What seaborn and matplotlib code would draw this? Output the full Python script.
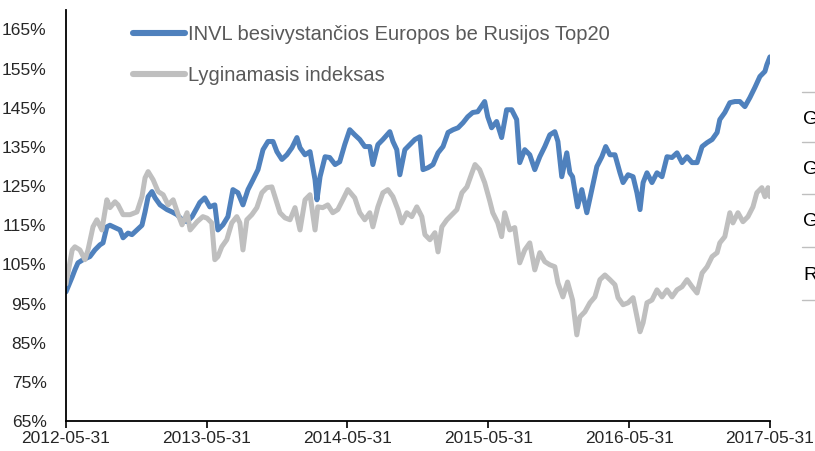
import matplotlib
matplotlib.use("Agg")
import matplotlib.pyplot as plt
import matplotlib.dates as mdates
from matplotlib.lines import Line2D
import seaborn as sns
import pandas as pd

# series (values in %)
invl_dates = [
    "2012-05-31", "2012-06-16", "2012-06-23", "2012-07-01", "2012-07-14", "2012-08-01",
    "2012-08-14", "2012-08-27", "2012-09-04", "2012-09-14", "2012-09-22", "2012-10-05",
    "2012-10-18", "2012-10-26", "2012-11-08", "2012-11-18", "2012-12-01", "2012-12-14",
    "2012-12-22", "2012-12-30", "2013-01-09", "2013-01-17", "2013-01-30", "2013-02-17",
    "2013-03-02", "2013-03-15", "2013-03-28", "2013-04-10", "2013-04-23", "2013-05-06",
    "2013-05-13", "2013-05-26", "2013-06-08", "2013-06-21", "2013-06-29", "2013-07-12",
    "2013-07-25", "2013-08-07", "2013-08-20", "2013-09-02", "2013-09-15", "2013-09-28",
    "2013-10-11", "2013-10-24", "2013-11-06", "2013-11-19", "2013-11-29", "2013-12-12",
    "2013-12-25", "2014-01-07", "2014-01-20", "2014-01-28", "2014-02-10", "2014-02-23",
    "2014-03-08", "2014-03-13", "2014-03-21", "2014-04-03", "2014-04-15", "2014-04-29",
    "2014-05-11", "2014-05-24", "2014-06-06", "2014-06-19", "2014-07-02", "2014-07-15",
    "2014-07-28", "2014-08-05", "2014-08-18", "2014-08-31", "2014-09-18", "2014-09-26",
    "2014-10-06", "2014-10-14", "2014-10-27", "2014-11-09", "2014-11-22", "2014-12-05",
    "2014-12-13", "2014-12-26", "2015-01-08", "2015-01-21", "2015-02-03", "2015-02-16",
    "2015-03-01", "2015-03-14", "2015-03-27", "2015-04-08", "2015-04-21", "2015-05-04",
    "2015-05-22", "2015-05-30", "2015-06-09", "2015-06-22", "2015-07-05", "2015-07-18",
    "2015-07-31", "2015-08-13", "2015-08-21", "2015-09-03", "2015-09-16", "2015-09-29",
    "2015-10-12", "2015-10-25", "2015-11-07", "2015-11-20", "2015-11-28", "2015-12-08",
    "2015-12-21", "2015-12-29", "2016-01-05", "2016-01-18", "2016-01-29", "2016-02-11",
    "2016-02-24", "2016-03-08", "2016-03-21", "2016-03-31", "2016-04-11", "2016-04-24",
    "2016-05-07", "2016-05-15", "2016-05-28", "2016-06-10", "2016-06-20", "2016-06-28",
    "2016-07-06", "2016-07-16", "2016-07-29", "2016-08-11", "2016-08-24", "2016-09-06",
    "2016-09-19", "2016-10-02", "2016-10-15", "2016-10-28", "2016-11-10", "2016-11-23",
    "2016-12-06", "2016-12-19", "2017-01-01", "2017-01-14", "2017-01-21", "2017-02-03",
    "2017-02-16", "2017-03-01", "2017-03-14", "2017-03-27", "2017-04-09", "2017-04-22",
    "2017-05-05", "2017-05-18", "2017-05-23", "2017-05-31",
]
invl_values = [
    98.0, 101.8, 103.6, 105.4, 106.2, 107.0,
    108.7, 110.0, 110.5, 114.6, 115.0, 114.4,
    113.8, 111.8, 113.0, 112.6, 113.8, 115.0,
    118.4, 122.3, 123.6, 122.0, 120.2, 119.0,
    118.4, 117.7, 116.4, 115.9, 117.2, 119.5,
    120.8, 122.0, 119.7, 120.2, 113.8, 115.1,
    117.2, 124.1, 123.3, 120.2, 124.1, 126.6,
    129.2, 134.3, 136.4, 136.4, 133.8, 131.8,
    133.0, 134.8, 137.4, 134.8, 133.0, 133.8,
    126.6, 121.5, 127.4, 132.5, 132.3, 130.5,
    131.2, 135.6, 139.4, 138.1, 136.9, 135.1,
    135.1, 130.5, 135.6, 136.9, 138.9, 136.4,
    134.3, 127.9, 134.3, 135.6, 136.9, 137.6,
    129.2, 129.7, 130.5, 133.5, 135.1, 138.7,
    139.4, 139.9, 141.2, 142.7, 143.8, 144.0,
    146.6, 142.7, 139.9, 141.5, 137.4, 144.5,
    144.5, 142.0, 131.0, 134.3, 133.0, 129.2,
    132.5, 135.1, 138.1, 138.9, 136.4, 127.4,
    133.5, 128.4, 127.4, 119.7, 124.1, 118.2,
    124.1, 130.0, 132.5, 135.1, 133.0, 133.0,
    128.4, 125.9, 127.9, 127.4, 123.3, 119.0,
    125.9, 128.4, 125.9, 128.4, 127.4, 132.5,
    132.3, 133.5, 131.0, 132.5, 131.0, 131.0,
    135.1, 136.1, 136.9, 138.7, 142.0, 143.8,
    146.3, 146.6, 146.6, 145.3, 147.6, 150.2,
    153.0, 154.3, 156.0, 158.0,
]

index_dates = [
    "2012-05-31", "2012-06-16", "2012-06-23", "2012-07-06", "2012-07-19", "2012-07-27",
    "2012-08-09", "2012-08-19", "2012-09-01", "2012-09-14", "2012-09-22", "2012-10-05",
    "2012-10-13", "2012-10-26", "2012-11-13", "2012-12-01", "2012-12-14", "2012-12-22",
    "2012-12-30", "2013-01-12", "2013-01-25", "2013-02-07", "2013-02-20", "2013-03-05",
    "2013-03-18", "2013-03-28", "2013-04-10", "2013-04-18", "2013-05-06", "2013-05-21",
    "2013-06-01", "2013-06-13", "2013-06-21", "2013-06-29", "2013-07-09", "2013-07-22",
    "2013-08-04", "2013-08-17", "2013-08-25", "2013-09-02", "2013-09-12", "2013-09-25",
    "2013-10-08", "2013-10-21", "2013-11-03", "2013-11-16", "2013-11-24", "2013-12-07",
    "2013-12-20", "2014-01-02", "2014-01-15", "2014-01-28", "2014-02-10", "2014-02-23",
    "2014-03-08", "2014-03-15", "2014-03-28", "2014-04-10", "2014-04-23", "2014-05-06",
    "2014-05-19", "2014-06-01", "2014-06-19", "2014-07-02", "2014-07-15", "2014-07-28",
    "2014-08-05", "2014-08-18", "2014-08-31", "2014-09-13", "2014-09-26", "2014-10-09",
    "2014-10-19", "2014-11-01", "2014-11-14", "2014-11-27", "2014-12-10", "2014-12-18",
    "2014-12-31", "2015-01-13", "2015-01-21", "2015-01-31", "2015-02-13", "2015-02-26",
    "2015-03-11", "2015-03-24", "2015-04-06", "2015-04-19", "2015-04-27", "2015-05-09",
    "2015-05-22", "2015-06-04", "2015-06-12", "2015-06-25", "2015-07-05", "2015-07-13",
    "2015-07-26", "2015-08-08", "2015-08-21", "2015-09-03", "2015-09-16", "2015-09-29",
    "2015-10-12", "2015-10-25", "2015-11-07", "2015-11-20", "2015-11-28", "2015-12-11",
    "2015-12-23", "2016-01-05", "2016-01-16", "2016-01-24", "2016-02-06", "2016-02-19",
    "2016-03-03", "2016-03-16", "2016-03-29", "2016-04-11", "2016-04-24", "2016-05-02",
    "2016-05-15", "2016-05-28", "2016-06-10", "2016-06-20", "2016-06-28", "2016-07-06",
    "2016-07-16", "2016-07-29", "2016-08-11", "2016-08-24", "2016-09-06", "2016-09-19",
    "2016-10-02", "2016-10-15", "2016-10-28", "2016-11-10", "2016-11-23", "2016-12-06",
    "2016-12-19", "2017-01-01", "2017-01-14", "2017-01-21", "2017-02-03", "2017-02-16",
    "2017-02-24", "2017-03-09", "2017-03-22", "2017-04-04", "2017-04-17", "2017-04-27",
    "2017-05-10", "2017-05-18", "2017-05-26", "2017-05-31",
]
index_values = [
    100.0, 108.7, 109.5, 108.7, 106.2, 108.7,
    114.6, 116.4, 113.8, 121.5, 119.5, 121.0,
    120.2, 117.7, 117.7, 118.4, 122.3, 127.1,
    128.7, 126.6, 123.6, 122.8, 120.2, 121.5,
    117.7, 115.1, 118.2, 113.8, 115.9, 117.2,
    116.8, 115.6, 106.2, 107.0, 109.5, 111.3,
    115.6, 117.2, 115.6, 108.7, 116.4, 117.7,
    119.5, 123.3, 124.6, 124.8, 122.3, 118.2,
    116.9, 116.4, 119.5, 113.8, 121.5, 122.8,
    113.8, 119.7, 119.5, 120.2, 118.2, 119.0,
    121.5, 124.1, 122.0, 118.2, 116.4, 118.2,
    114.6, 119.7, 123.3, 124.1, 122.3, 119.0,
    115.6, 118.2, 117.2, 119.7, 117.2, 112.6,
    111.3, 113.1, 108.2, 114.6, 116.4, 117.7,
    119.0, 123.3, 124.8, 128.4, 130.5, 129.2,
    125.9, 121.3, 118.2, 115.6, 112.1, 118.2,
    113.8, 114.4, 105.4, 108.7, 110.5, 103.6,
    108.0, 105.7, 104.9, 104.4, 100.3, 96.7,
    100.5, 95.9, 87.0, 91.6, 92.9, 95.2,
    96.7, 101.1, 102.3, 101.1, 99.8, 96.5,
    94.7, 95.2, 96.5, 91.6, 87.8, 90.1,
    95.2, 95.9, 98.5, 96.7, 98.5, 96.7,
    98.5, 99.3, 101.1, 99.3, 97.7, 102.8,
    104.4, 107.0, 108.0, 110.5, 112.1, 118.2,
    115.6, 118.2, 115.9, 117.2, 119.7, 123.3,
    124.6, 122.3, 124.6, 122.3,
]

series_names = ["INVL besivystančios Europos be Rusijos Top20", "Lyginamasis indeksas"]
series_colors = ["#4F81BD", "#BFBFBF"]
tick_dates = ["2012-05-31", "2013-05-31", "2014-05-31", "2015-05-31", "2016-05-31", "2017-05-31"]
y_ticks = list(range(65, 166, 10))
table_letters = ["G", "G", "G", "R"]

df = pd.concat([
    pd.DataFrame({"date": pd.to_datetime(invl_dates), "value": invl_values, "series": series_names[0]}),
    pd.DataFrame({"date": pd.to_datetime(index_dates), "value": index_values, "series": series_names[1]}),
], ignore_index=True)

sns.set_style("white")
plt.rcParams["font.family"] = ["Liberation Sans", "DejaVu Sans"]

fig = plt.figure(figsize=(8.15, 4.51), dpi=100)
ax = fig.add_axes([0.081, 0.0665, 0.8637, 0.9115])

sns.lineplot(data=df, x="date", y="value", hue="series", hue_order=series_names,
             palette=series_colors, estimator=None, linewidth=3.6, ax=ax)

ax.set_xlim(pd.Timestamp(tick_dates[0]), pd.Timestamp(tick_dates[-1]))
ax.set_ylim(65, 170)
ax.set_xticks(pd.to_datetime(tick_dates))
ax.xaxis.set_major_formatter(mdates.DateFormatter("%Y-%m-%d"))
ax.set_yticks(y_ticks)
ax.set_yticklabels([f"{v}%" for v in y_ticks])
ax.set_xlabel("")
ax.set_ylabel("")
ax.tick_params(axis="x", length=5, width=1.2, color="black", labelsize=12.5, pad=2, direction="out")
ax.tick_params(axis="y", length=0, labelsize=12.5, pad=14)
ax.xaxis.set_ticks_position("bottom")
for side in ["top", "right"]:
    ax.spines[side].set_visible(False)
for side in ["left", "bottom"]:
    ax.spines[side].set_color("black")
    ax.spines[side].set_linewidth(1.3)

leg = ax.legend(loc="upper left", bbox_to_anchor=(0.095, 0.963), frameon=False,
                fontsize=14.5, handlelength=2.6, handletextpad=0.15, labelspacing=1.1,
                borderaxespad=0, borderpad=0)
for line in leg.get_lines():
    line.set_linewidth(4.4)
for text in leg.get_texts():
    text.set_color("#595959")

# fragment of a table cut off at the right edge
fig_h = 451
for y in [92, 142, 194, 247, 300]:
    fig.add_artist(Line2D([802 / 815, 1.0], [1 - y / fig_h, 1 - y / fig_h],
                          color="#BFBFBF", linewidth=1.0))
for y, letter in zip([119, 170, 222, 275], table_letters):
    fig.text(803 / 815, 1 - y / fig_h, letter, fontsize=14, va="center", ha="left", color="black")

fig.savefig("out.png", dpi=100)
